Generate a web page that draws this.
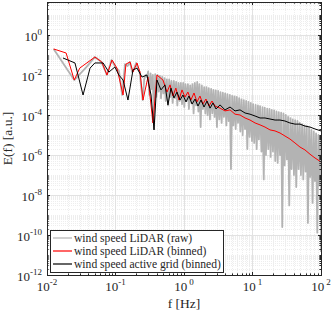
<!DOCTYPE html>
<html>
<head>
<meta charset="utf-8">
<script src="https://cdn.jsdelivr.net/npm/d3@7"></script>
<style>
  body { margin: 0; background: #fff; }
  svg, text { font-family: 'Liberation Serif', 'DejaVu Serif', serif; }
</style>
</head>
<body>
<div id="chart"></div>
<script>
// raw LiDAR spectrum (low f bins, then peak / dip pairs)
let rawFreq = [
  0.0125, 0.025, 0.0375, 0.05, 0.0625, 0.075, 0.0875, 0.1, 0.1125, 0.125,
  0.1375, 0.15, 0.1625, 0.175, 0.1875, 0.2, 0.2125, 0.225, 0.2375, 0.25,
  0.2625, 0.275, 0.2875,
  0.30, 0.312, 0.325, 0.338, 0.351, 0.365, 0.38, 0.395, 0.411, 0.427,
  0.444, 0.462, 0.48, 0.5, 0.52, 0.54, 0.562, 0.584, 0.608, 0.632,
  0.657, 0.684, 0.711, 0.74, 0.769, 0.8, 0.832, 0.865, 0.9, 0.936,
  0.973, 1.01, 1.05, 1.09, 1.14, 1.18, 1.23, 1.28, 1.33, 1.38,
  1.44, 1.5, 1.56, 1.62, 1.68, 1.75, 1.82, 1.89, 1.97, 2.05,
  2.13, 2.21, 2.3, 2.39, 2.49, 2.59, 2.69, 2.8, 2.91, 3.03,
  3.15, 3.28, 3.41, 3.54, 3.69, 3.83, 3.99, 4.15, 4.31, 4.49,
  4.67, 4.85, 5.05, 5.25, 5.46, 5.68, 5.9, 6.14, 6.39, 6.64,
  6.91, 7.18, 7.47, 7.77, 8.08, 8.4, 8.74, 9.09, 9.45, 9.83,
  10.2, 10.6, 11.1, 11.5, 12.0, 12.4, 12.9, 13.5, 14.0, 14.6,
  15.1, 15.7, 16.4, 17.0, 17.7, 18.4, 19.1, 19.9, 20.7, 21.5,
  22.4, 23.3, 24.2, 25.2, 26.2, 27.2, 28.3, 29.4, 30.6, 31.8,
  33.1, 34.4, 35.8, 37.2, 38.7, 40.3, 41.9, 43.5, 45.3, 47.1,
  49.0, 50.9, 53.0, 55.1, 57.3, 59.6, 62.0, 64.4, 67.0, 69.7,
  72.5, 75.4, 78.4, 81.5, 84.8, 88.2, 91.7, 95.3, 99.2, 100
]
let rawPower = [
  2.0e-1, 5.6e-3, 2.5e-2, 7.9e-2, 4.5e-2, 1.0e-2, 5.6e-2, 2.5e-2, 1.6e-2, 1.0e-3,
  3.5e-2, 2.8e-2, 4.5e-2, 1.4e-2, 2.2e-2, 4.0e-2, 2.0e-2, 1.4e-2, 2.5e-3, 5.6e-4,
  6.3e-3, 1.0e-2, 7.9e-3,
  1.5e-2, 1e-3, 1.2e-2, 2e-3, 1e-2, 2e-5, 1.1e-2, 8e-4, 1e-2, 1.5e-3,
  9e-3, 7e-4, 8e-3, 1.2e-3, 7e-3, 5e-4, 6e-3, 3e-4, 6e-3, 8e-4,
  5e-3, 4e-4, 5e-3, 7e-4, 4.5e-3, 3e-4, 4e-3, 5e-4, 4e-3, 3.5e-4,
  4e-3, 2.5e-4, 3.5e-3, 5e-4, 3.5e-3, 2e-4, 3e-3, 4e-4, 3.5e-3, 1.2e-4,
  4e-3, 3e-4, 4.5e-3, 1.5e-4, 3.5e-3, 2.5e-5, 3e-3, 2e-4, 2.5e-3, 1.2e-4,
  2.5e-3, 1e-4, 2.2e-3, 6e-5, 2e-3, 1.2e-4, 1.8e-3, 8e-5, 1.7e-3, 2.5e-5,
  1.6e-3, 6e-5, 1.4e-3, 4e-5, 1.3e-3, 8e-5, 1.2e-3, 3e-5, 1.1e-3, 5e-5,
  1e-3, 2e-7, 9e-4, 3e-5, 8.5e-4, 2e-5, 8e-4, 4e-5, 7e-4, 1.5e-5,
  6e-4, 1e-5, 5.5e-4, 2e-5, 5e-4, 2e-6, 4.5e-4, 8e-6, 4e-4, 5e-6,
  3.5e-4, 4e-6, 3.2e-4, 2e-6, 3e-4, 6e-6, 2.8e-4, 1.5e-6, 2.5e-4, 6e-8,
  2.3e-4, 1e-6, 2.1e-4, 2e-6, 2e-4, 8e-7, 1.8e-4, 1.5e-6, 1.7e-4, 5e-7,
  1.5e-4, 4e-7, 1.4e-4, 1e-6, 1.3e-4, 2.5e-10, 1.2e-4, 3e-7, 1e-4, 6e-7,
  8e-5, 3e-9, 7e-5, 2e-7, 6e-5, 1e-7, 5.5e-5, 2.5e-8, 5e-5, 2e-7,
  4e-5, 1e-7, 3.5e-5, 6e-8, 3e-5, 1.5e-7, 2.8e-5, 4e-10, 2.3e-5, 8e-8,
  1.8e-5, 4e-9, 1.5e-5, 5e-8, 1.2e-5, 1.3e-10, 1e-5, 3e-8, 8e-6, 1.4e-11
]

// binned LiDAR spectrum
let lidarFreq = [
  0.0125, 0.019, 0.025, 0.030, 0.050, 0.063, 0.075, 0.089, 0.105, 0.129,
  0.142, 0.163, 0.180, 0.206, 0.228, 0.252, 0.298, 0.352, 0.403, 0.493,
  0.565, 0.625, 0.69, 0.76, 0.845, 0.935, 1.035, 1.14, 1.26, 1.40,
  1.55, 1.71, 1.89, 2.09, 2.32, 2.56, 2.84, 3.36, 3.97, 4.70,
  5.56, 6.58, 7.78, 9.20, 10.9, 12.9, 15.2, 18.0, 21.3, 25.2,
  29.8, 35.2, 41.7, 49.3, 58.3, 69.0, 81.7, 100
]
let lidarPower = [
  2.0e-1, 1.26e-1, 5.6e-3, 2.2e-2, 7.9e-2, 4.5e-2, 1.0e-2, 5.6e-2, 2.2e-2, 1.0e-3,
  3.5e-2, 4.5e-2, 1.4e-2, 4.0e-2, 1.4e-2, 5.6e-4, 7.9e-3, 4.0e-5, 1.0e-2, 5.6e-3,
  1.4e-3, 3.2e-3, 8.9e-4, 2.2e-3, 5.6e-4, 1.8e-3, 7.9e-4, 1.4e-3, 5.6e-4, 1.26e-3,
  4.5e-4, 8.9e-4, 3.5e-4, 6.3e-4, 2.8e-4, 5.0e-4, 2.8e-4, 2.2e-4, 1.6e-4, 1.8e-4,
  1.1e-4, 1.0e-4, 7.1e-5, 5.6e-5, 4.0e-5, 3.2e-5, 2.5e-5, 1.8e-5, 1.6e-5, 1.26e-5,
  8.9e-6, 6.3e-6, 4.0e-6, 2.5e-6, 1.8e-6, 1.1e-6, 7.1e-7, 4.5e-7
]

// binned active grid spectrum
let gridFreq = [
  0.0171, 0.0256, 0.0336, 0.0425, 0.050, 0.066, 0.080, 0.098, 0.112, 0.129,
  0.152, 0.180, 0.206, 0.244, 0.288, 0.330, 0.365, 0.403, 0.461, 0.528,
  0.583, 0.645, 0.714, 0.791, 0.875, 0.966, 1.07, 1.18, 1.31, 1.45,
  1.60, 1.77, 1.96, 2.17, 2.40, 2.65, 2.93, 3.36, 3.97, 4.70,
  5.56, 6.58, 7.78, 9.20, 10.9, 12.9, 15.2, 18.0, 21.3, 25.2,
  29.8, 35.2, 41.7, 49.3, 58.3, 69.0, 81.7, 100
]
let gridPower = [
  7.1e-2, 4.0e-2, 1.0e-3, 2.2e-2, 4.0e-2, 4.0e-2, 1.4e-2, 2.5e-2, 1.0e-2, 5.6e-3,
  5.6e-4, 1.8e-2, 2.2e-2, 7.9e-3, 1.0e-2, 1.0e-3, 1.8e-5, 5.6e-3, 1.8e-3, 3.2e-3,
  3.2e-4, 2.2e-3, 7.1e-4, 1.4e-3, 5.6e-4, 1.0e-3, 4.5e-4, 8.9e-4, 3.5e-4, 6.3e-4,
  2.8e-4, 5.6e-4, 2.5e-4, 5.0e-4, 2.2e-4, 4.0e-4, 2.0e-4, 3.2e-4, 1.8e-4, 2.5e-4,
  1.6e-4, 1.8e-4, 1.26e-4, 1.1e-4, 8.9e-5, 7.1e-5, 7.1e-5, 6.3e-5, 5.6e-5, 5.6e-5,
  5.0e-5, 4.0e-5, 3.5e-5, 3.5e-5, 2.8e-5, 2.5e-5, 2.0e-5, 1.6e-5
]

let xTickExp = [-2, -1, 0, 1, 2]
let yTickExp = [0, -2, -4, -6, -8, -10, -12]
let legendLabels = [
  'wind speed LiDAR (raw)',
  'wind speed LiDAR (binned)',
  'wind speed active grid (binned)'
]
let colors = ['#b3b3b3', '#ff0000', '#000000']

let margin = { top: 2, left: 47, right: 11, bottom: 39 }
let width = 332 - margin.left - margin.right
let height = 314 - margin.top - margin.bottom
let fontFamily = 'Liberation Serif, DejaVu Serif, serif'

let svg = d3
  .select('#chart')
  .append('svg')
  .attr('width', 332)
  .attr('height', 314)
  .attr('font-family', fontFamily)

let holder = svg
  .append('g')
  .attr('transform', `translate(${margin.left},${margin.top})`)

let xScale = d3
  .scaleLog()
  .domain([1e-2, 1e2])
  .range([0, width])

let yScale = d3
  .scaleLog()
  .domain([1e-12, Math.pow(10, 1.65)])
  .range([height, 0])

// minor / major positions
let xMinor = []
for (let e = -2; e < 2; e++) {
  for (let m = 2; m <= 9; m++) xMinor.push(m * Math.pow(10, e))
}
let yMinor = []
for (let e = -12; e <= 1; e++) {
  for (let m = 1; m <= 9; m++) {
    let v = m * Math.pow(10, e)
    if (m === 1 && e % 2 === 0) continue
    if (v < Math.pow(10, 1.65)) yMinor.push(v)
  }
}
let xMajor = xTickExp.map(d => Math.pow(10, d))
let yMajor = yTickExp.map(d => Math.pow(10, d))

// grid
holder
  .selectAll('.minor-x')
  .data(xMinor)
  .enter()
  .append('line')
  .attr('x1', d => Math.round(xScale(d)) + 0.5)
  .attr('x2', d => Math.round(xScale(d)) + 0.5)
  .attr('y1', 0)
  .attr('y2', height)
  .attr('stroke', '#eeeeee')
  .attr('stroke-dasharray', '1,1')

holder
  .selectAll('.minor-y')
  .data(yMinor)
  .enter()
  .append('line')
  .attr('y1', d => Math.round(yScale(d)) + 0.5)
  .attr('y2', d => Math.round(yScale(d)) + 0.5)
  .attr('x1', 0)
  .attr('x2', width)
  .attr('stroke', '#eeeeee')
  .attr('stroke-dasharray', '1,1')

holder
  .selectAll('.major-x')
  .data(xMajor)
  .enter()
  .append('line')
  .attr('x1', d => Math.round(xScale(d)) + 0.5)
  .attr('x2', d => Math.round(xScale(d)) + 0.5)
  .attr('y1', 0)
  .attr('y2', height)
  .attr('stroke', '#e2e2e2')

holder
  .selectAll('.major-y')
  .data(yMajor)
  .enter()
  .append('line')
  .attr('y1', d => Math.round(yScale(d)) + 0.5)
  .attr('y2', d => Math.round(yScale(d)) + 0.5)
  .attr('x1', 0)
  .attr('x2', width)
  .attr('stroke', '#e2e2e2')

// lines
holder
  .append('clipPath')
  .attr('id', 'plot-clip')
  .append('rect')
  .attr('width', width)
  .attr('height', height)

let line = d3
  .line()
  .x(d => xScale(d[0]))
  .y(d => yScale(d[1]))

let series = [
  d3.zip(rawFreq, rawPower),
  d3.zip(lidarFreq, lidarPower),
  d3.zip(gridFreq, gridPower)
]

holder
  .append('g')
  .attr('clip-path', 'url(#plot-clip)')
  .selectAll('path')
  .data(series)
  .enter()
  .append('path')
  .attr('d', line)
  .attr('fill', 'none')
  .attr('stroke', (d, i) => colors[i])
  .attr('stroke-width', (d, i) => (i === 0 ? 1.8 : 1))
  .attr('stroke-linejoin', 'round')

// ticks on all four sides
let tickColor = '#262626'
;[0, height].forEach(y0 => {
  let dir = y0 === 0 ? 1 : -1
  holder
    .selectAll(null)
    .data(xMajor.concat(xMinor))
    .enter()
    .append('line')
    .attr('x1', d => Math.round(xScale(d)) + 0.5)
    .attr('x2', d => Math.round(xScale(d)) + 0.5)
    .attr('y1', y0)
    .attr('y2', d => y0 + dir * (xMajor.includes(d) ? 3 : 1.6))
    .attr('stroke', tickColor)
})
;[0, width].forEach(x0 => {
  let dir = x0 === 0 ? 1 : -1
  holder
    .selectAll(null)
    .data(yMajor.concat(yMinor))
    .enter()
    .append('line')
    .attr('y1', d => Math.round(yScale(d)) + 0.5)
    .attr('y2', d => Math.round(yScale(d)) + 0.5)
    .attr('x1', x0)
    .attr('x2', d => x0 + dir * (yMajor.includes(d) ? 3 : 1.6))
    .attr('stroke', tickColor)
})

holder
  .append('rect')
  .attr('x', 0.5)
  .attr('y', 0.5)
  .attr('width', width)
  .attr('height', height)
  .attr('fill', 'none')
  .attr('stroke', tickColor)

// tick labels
let xLabels = holder
  .selectAll('.x-label')
  .data(xTickExp)
  .enter()
  .append('text')
  .attr('x', d => xScale(Math.pow(10, d)))
  .attr('y', height + 16)
  .attr('text-anchor', 'middle')
  .attr('font-size', 13)
  .attr('fill', tickColor)
xLabels.append('tspan').text('10')
xLabels
  .append('tspan')
  .attr('dy', -6)
  .attr('font-size', 9)
  .text(d => (d < 0 ? '-' : '\u2009') + Math.abs(d))

let yLabels = holder
  .selectAll('.y-label')
  .data(yTickExp)
  .enter()
  .append('text')
  .attr('x', -5)
  .attr('y', d => yScale(Math.pow(10, d)) + 6)
  .attr('text-anchor', 'end')
  .attr('font-size', 13)
  .attr('fill', tickColor)
yLabels.append('tspan').text('10')
yLabels
  .append('tspan')
  .attr('dy', -6)
  .attr('font-size', 9)
  .text(d => (d < 0 ? '-' : '') + Math.abs(d))

// axis titles
holder
  .append('text')
  .attr('x', width / 2)
  .attr('y', height + 33)
  .attr('text-anchor', 'middle')
  .attr('font-size', 13.5)
  .attr('fill', tickColor)
  .text('f [Hz]')

holder
  .append('text')
  .attr('transform', `translate(${-35},${height / 2}) rotate(-90)`)
  .attr('text-anchor', 'middle')
  .attr('font-size', 13.5)
  .attr('fill', tickColor)
  .text('E(f) [a.u.]')

// legend
let legend = holder
  .append('g')
  .attr('transform', 'translate(3,228)')

legend
  .append('rect')
  .attr('x', 0.5)
  .attr('y', 0.5)
  .attr('width', 173)
  .attr('height', 42)
  .attr('fill', '#fff')
  .attr('stroke', tickColor)

let rows = legend
  .selectAll('.legend-row')
  .data(legendLabels)
  .enter()
  .append('g')
  .attr('transform', (d, i) => `translate(0,${8 + i * 13})`)

rows
  .append('line')
  .attr('x1', 3)
  .attr('x2', 22)
  .attr('stroke', (d, i) => colors[i])
  .attr('stroke-width', 1.2)

rows
  .append('text')
  .attr('x', 24)
  .attr('y', 3.5)
  .attr('font-size', 11.6)
  .attr('fill', tickColor)
  .text(d => d)
</script>
</body>
</html>
